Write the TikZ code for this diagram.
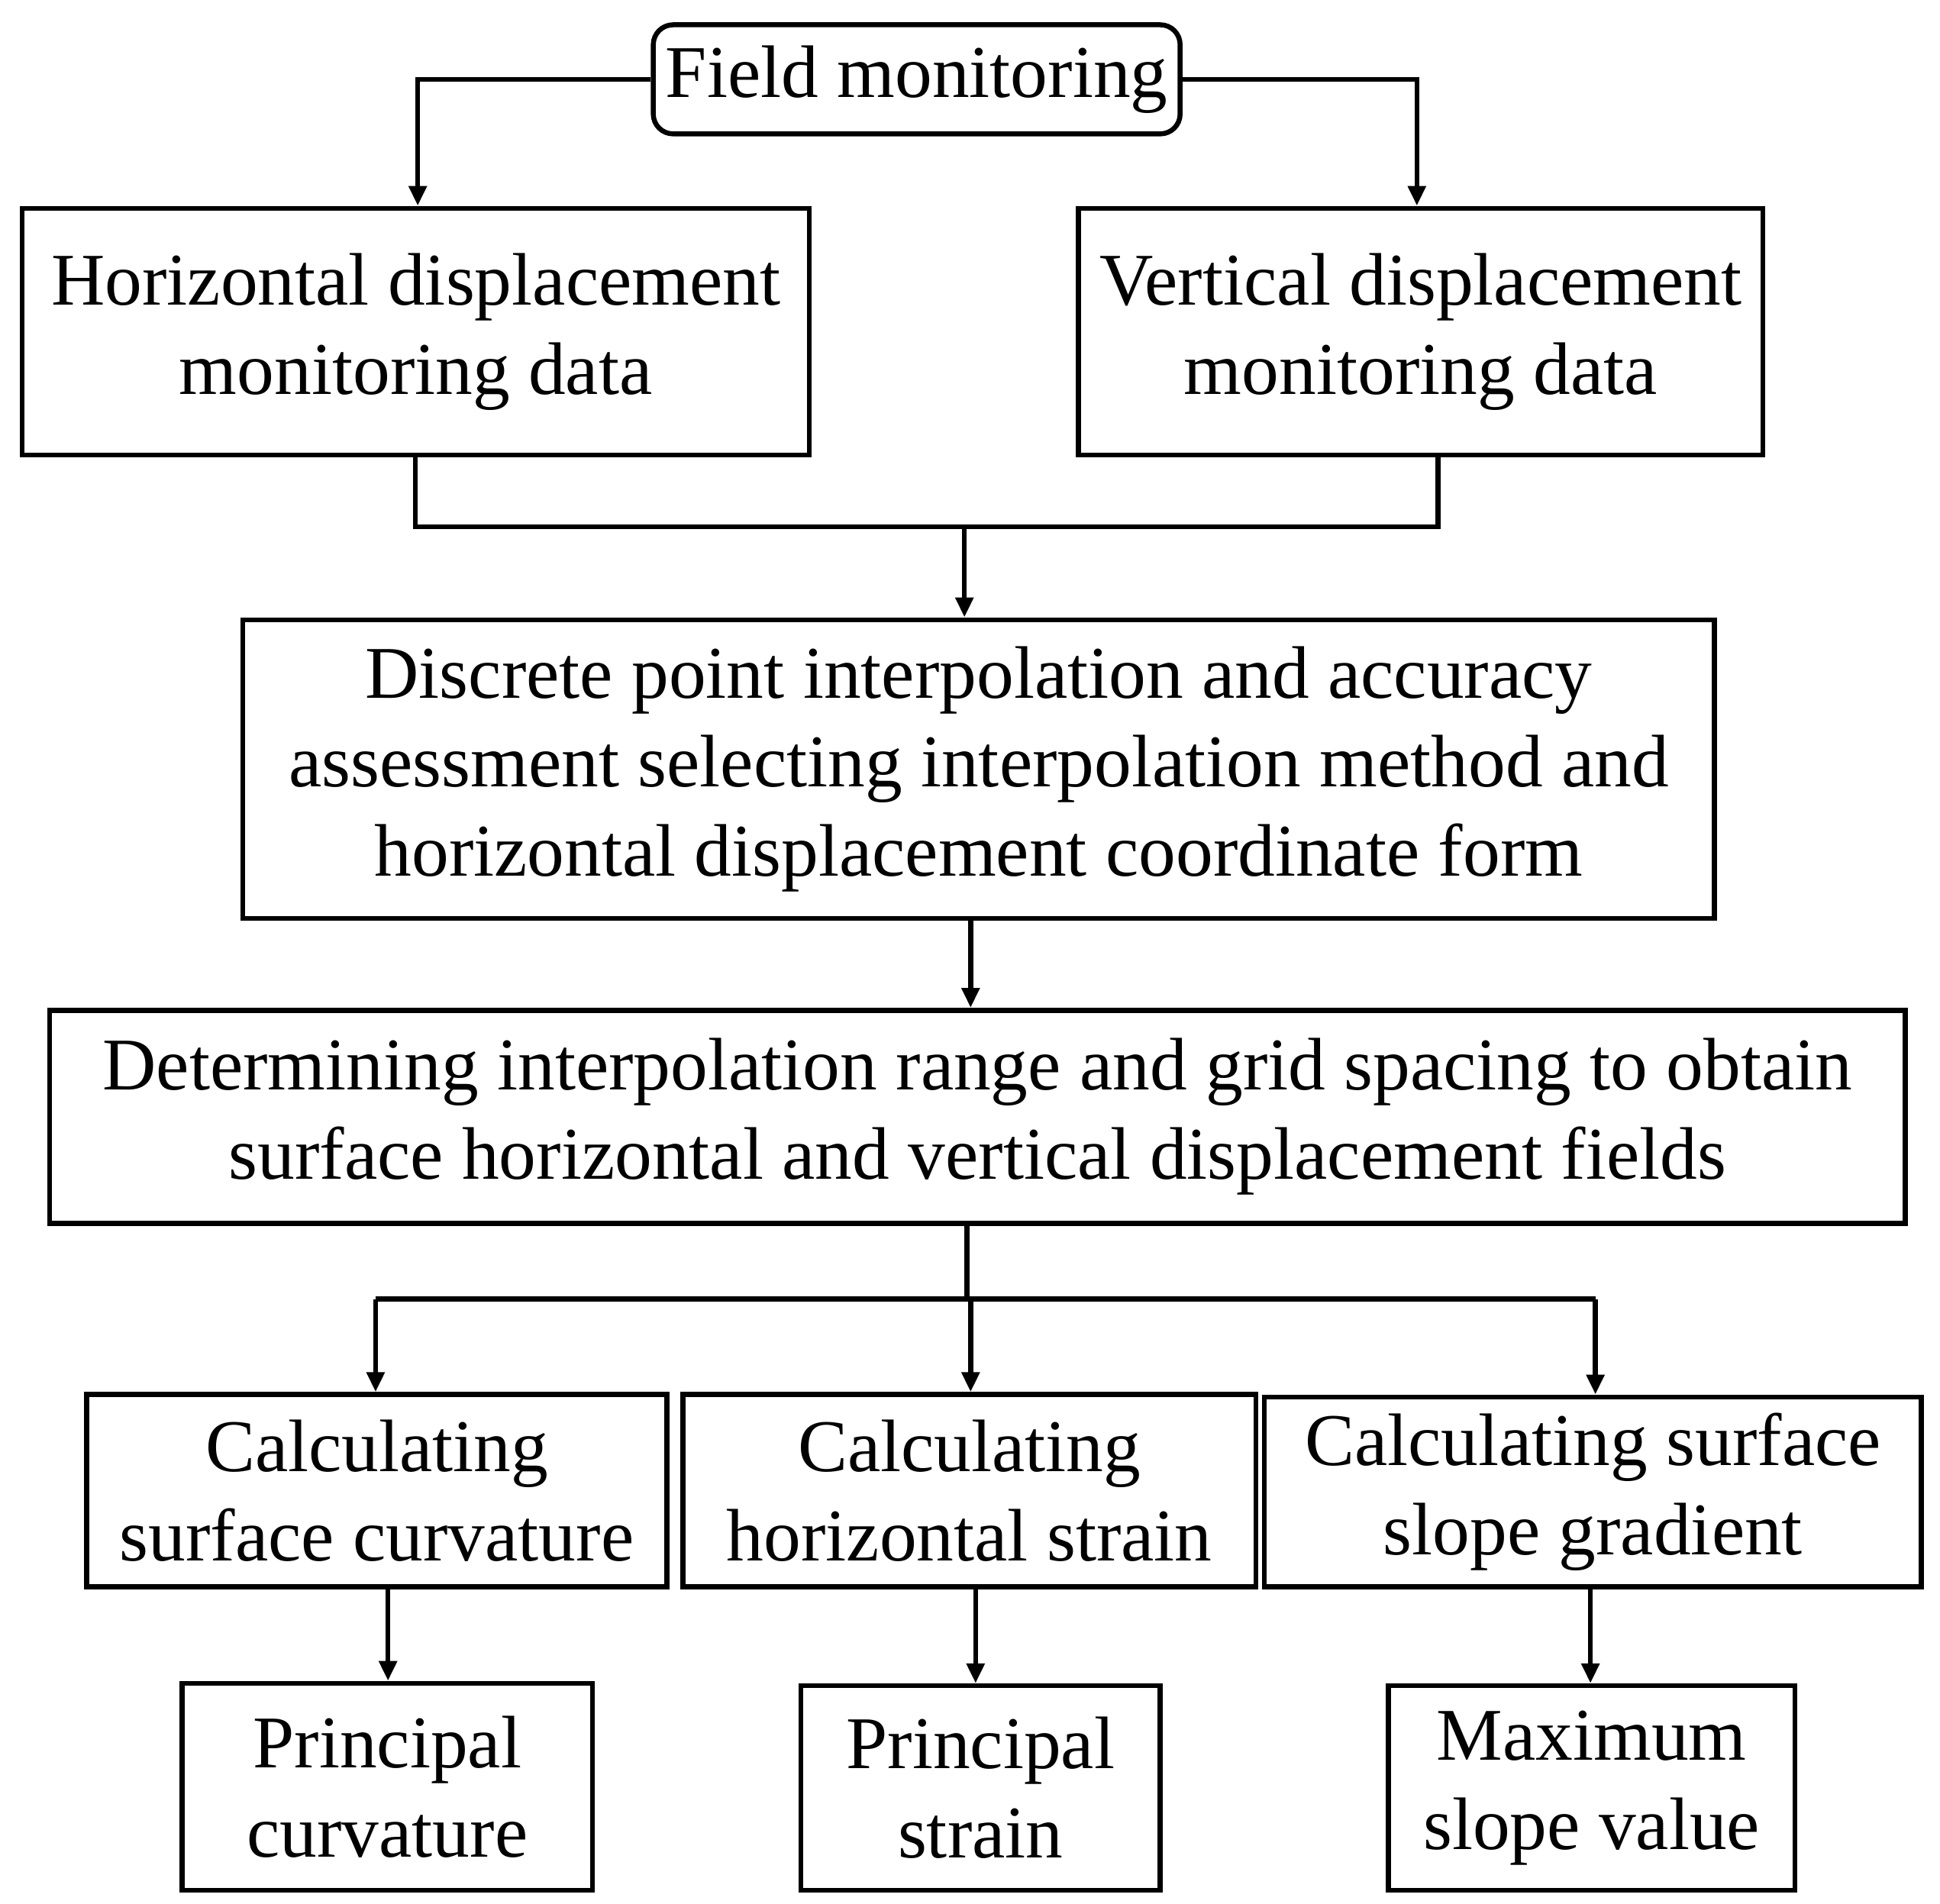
\documentclass[tikz,border=0pt]{standalone}
\usepackage{fontspec}
\setmainfont{Liberation Serif}
\usetikzlibrary{arrows.meta}
\begin{document}
\begin{tikzpicture}[x=0.5pt,y=-0.5pt,
  box/.style={draw,line width=2pt,align=center,font=\fontsize{30}{36}\selectfont,inner sep=0pt},
  ln/.style={line width=2pt},
  ar/.style={line width=2pt,-{Triangle[length=8pt,width=7pt]}}]
\useasboundingbox (0,0) rectangle (1565,1536);
\def\bx#1#2#3#4#5#6{\node[box,#6,minimum width={(#3-#2)*0.5pt},minimum height={(#5-#4)*0.5pt}] (#1) at ({(#2+#3)/2},{(#4+#5)/2}) {};}
\node[box,rounded corners=8pt,minimum width=212.5pt,minimum height=44pt] (fm) at (739.5,64) {Field monitoring};
\node[box,minimum width=317.5pt,minimum height=99.5pt] (hd) at (335.5,267.5) {Horizontal displacement\\monitoring data};
\node[box,minimum width=276pt,minimum height=99.5pt] (vd) at (1146,267.5) {Vertical displacement\\monitoring data};
\node[box,minimum width=593.5pt,minimum height=120.5pt] (dp) at (789.5,620.5) {Discrete point interpolation and accuracy\\assessment selecting interpolation method and\\horizontal displacement coordinate form};
\node[box,minimum width=748.5pt,minimum height=86pt] (dt) at (788.5,901) {Determining interpolation range and grid spacing to obtain\\surface horizontal and vertical displacement fields};
\node[box,minimum width=234pt,minimum height=77.5pt] (c1) at (304,1202.5) {Calculating\\surface curvature};
\node[box,minimum width=231pt,minimum height=77.5pt] (c2) at (782,1202.5) {Calculating\\horizontal strain};
\node[box,minimum width=265pt,minimum height=76.5pt] (c3) at (1285,1203.5) {Calculating surface\\slope gradient};
\node[box,minimum width=165.5pt,minimum height=83.5pt] (p1) at (312.5,1441.5) {Principal\\curvature};
\node[box,minimum width=145pt,minimum height=82.5pt] (p2) at (791,1442.5) {Principal\\strain};
\node[box,minimum width=164pt,minimum height=82.5pt] (p3) at (1284,1442.5) {Maximum\\slope value};
\coordinate (jl) at (335,425); \coordinate (jr) at (1160,425); \coordinate (jm) at (778,425);
\draw[ar] (fm.west) -| (hd.north -| 337,0);
\draw[ar] (fm.east) -| (vd.north -| 1143,0);
\draw[ln] (hd.south -| jl) -- (jl) -- (jr) -- (vd.south -| jr);
\draw[ar] (jm) -- (dp.north -| jm);
\draw[ar] (dp.south -| 783,0) -- (dt.north -| 783,0);
\coordinate (b) at (780,1048);
\draw[ln] (dt.south -| b) -- (b);
\draw[ln] (303,1048) -- (1287,1048);
\draw[ar] (303,1048) -- (c1.north -| 303,0);
\draw[ar] (783,1048) -- (c2.north -| 783,0);
\draw[ar] (1287,1048) -- (c3.north -| 1287,0);
\draw[ar] (c1.south -| 313,0) -- (p1.north -| 313,0);
\draw[ar] (c2.south -| 787,0) -- (p2.north -| 787,0);
\draw[ar] (c3.south -| 1283,0) -- (p3.north -| 1283,0);
\end{tikzpicture}
\end{document}
